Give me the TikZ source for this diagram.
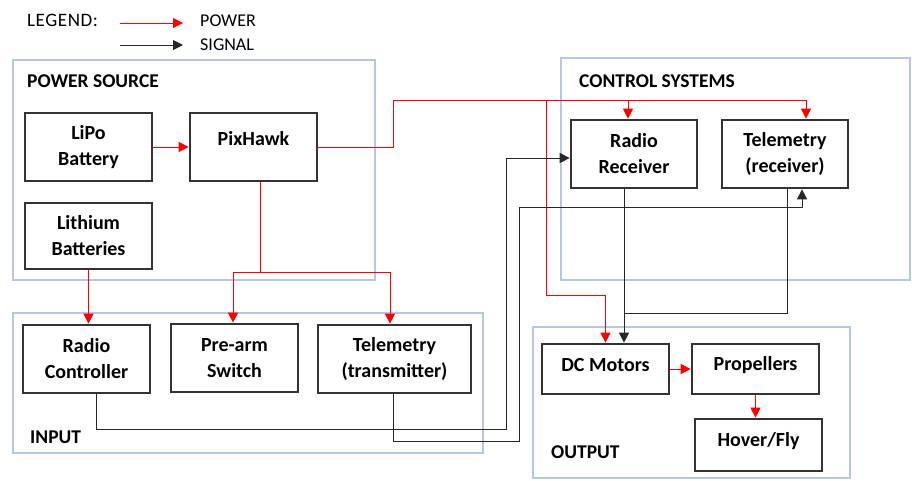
\documentclass[tikz,border=0pt]{standalone}
\usepackage{fontspec}
\setmainfont{Carlito}
\usetikzlibrary{arrows.meta}
\definecolor{grpblue}{HTML}{B4C7E7}
\definecolor{boxgray}{HTML}{333333}
\definecolor{sigcol}{HTML}{262626}
\begin{document}
\begin{tikzpicture}[x=1pt,y=-1pt,
  blk/.style={draw=boxgray, line width=2.7pt, fill=white, inner sep=0pt, align=center, text=black,
              font=\fontsize{20}{26}\selectfont\bfseries},
  grp/.style={draw=grpblue, line width=2.5pt, inner sep=0pt},
  glabel/.style={anchor=west, inner sep=0pt, font=\fontsize{19.5}{24}\selectfont\bfseries},
  leg/.style={anchor=west, inner sep=0pt, font=\fontsize{18}{22}\selectfont},
  pw/.style={draw=red, line width=1pt, -{Triangle[length=10pt,width=10pt]}},
  pwl/.style={draw=red, line width=1pt},
  sg/.style={draw=sigcol, line width=1pt, -{Triangle[length=10pt,width=10pt]}},
  sgl/.style={draw=sigcol, line width=1pt}]
\useasboundingbox (0,0) rectangle (912,480);
\fill[white] (0,0) rectangle (912,480);

% legend
\node[leg, font=\fontsize{19}{22}\selectfont] (legt) at (27,20) {\addfontfeature{LetterSpace=3}LEGEND:};
\coordinate (lp1) at (120,23); \coordinate (lp2) at (183,23);
\coordinate (ls1) at (120,45); \coordinate (ls2) at (183,45);
\draw[pw] (lp1) -- (lp2);
\draw[sg] (ls1) -- (ls2);
\node[leg] (legp) at (200,21) {POWER};
\node[leg] (legs) at (200,45) {SIGNAL};

% groups
\node[grp, minimum width=362, minimum height=220] (gps) at (194,170) {};
\node[grp, minimum width=470, minimum height=140] (ginp) at (248,383) {};
\node[grp, minimum width=349, minimum height=222] (gcs) at (735.5,169) {};
\node[grp, minimum width=317, minimum height=151] (gout) at (691.5,402.5) {};
\node[glabel] (lps) at (27,81) {POWER SOURCE};
\node[glabel] (lcs) at (579,81) {CONTROL SYSTEMS};
\node[glabel] (linp) at (30,437) {INPUT};
\node[glabel] (lout) at (551,452) {OUTPUT};

% boxes
\node[blk, minimum width=127, minimum height=68] (lipo) at (88.5,147) {LiPo\\Battery};
\node[blk, minimum width=127, minimum height=68] (pix) at (253.5,147) {};
\node[inner sep=0pt, font=\fontsize{20}{26}\selectfont\bfseries] (pixt) at (253.5,139) {PixHawk};
\node[blk, minimum width=127, minimum height=66] (lith) at (88.5,236) {Lithium\\Batteries};
\node[blk, minimum width=127, minimum height=68] (rc) at (86.5,359) {Radio\\Controller};
\node[blk, minimum width=127, minimum height=68] (pre) at (234.5,358) {Pre-arm\\Switch};
\node[blk, minimum width=153, minimum height=68] (ttx) at (394.5,359) {Telemetry\\(transmitter)};
\node[blk, minimum width=126, minimum height=68] (rrx) at (634,154) {Radio\\Receiver};
\node[blk, minimum width=126, minimum height=68] (trx) at (785,154) {Telemetry\\(receiver)};
\node[blk, minimum width=127, minimum height=50] (dcm) at (605.5,369) {};
\node[inner sep=0pt, font=\fontsize{20}{26}\selectfont\bfseries] (dcmt) at (605.5,365) {DC Motors};
\node[blk, minimum width=127, minimum height=50] (prop) at (755.5,369) {};
\node[inner sep=0pt, font=\fontsize{20}{26}\selectfont\bfseries] (propt) at (755.5,365) {Propellers};
\node[blk, minimum width=127, minimum height=52] (hov) at (758.5,445) {};
\node[inner sep=0pt, font=\fontsize{20}{26}\selectfont\bfseries] (hovt) at (758.5,441) {Hover/Fly};

% power connectors
\coordinate (rt) at (393,100);
\coordinate (jr) at (628,100);
\coordinate (jd) at (546,100);
\coordinate (jd2) at (546,295);
\coordinate (jp) at (260,272);
\draw[pw] (lipo.east) -- (pix.west);
\draw[pw] (pix.east) -| (rt) -| ([xshift=21]trx.north);
\draw[pw] (jr) -- ([xshift=-6]rrx.north);
\draw[pw] (jd) -- (jd2) -| (dcm.north);
\draw[pwl] ([xshift=6.5]pix.south) -- (jp);
\draw[pw] (jp) -| ([xshift=-1.5]pre.north);
\draw[pw] (jp) -| ([xshift=-4.5]ttx.north);
\draw[pw] (lith.south) -- (lith.south |- rc.north);
\draw[pw] (dcm.east) -- (prop.west);
\draw[pw] (prop.south) -- (prop.south |- hov.north);

% signal connectors
\coordinate (s1) at (506,429);
\coordinate (s2) at (506,158);
\coordinate (t1) at (519,441);
\coordinate (t2) at (519,207);
\coordinate (u1) at (624,313);
\draw[sg] ([xshift=9.5]rc.south) |- (s1) -- (s2) -- ([yshift=-4]rrx.west);
\draw[sg] ([xshift=-1.5]ttx.south) |- (t1) -- (t2) -| ([xshift=17]trx.south);
\draw[sg] ([xshift=-10]rrx.south) -- ([xshift=18.5]dcm.north);
\draw[sgl] ([xshift=2]trx.south) |- (u1);
\end{tikzpicture}
\end{document}
